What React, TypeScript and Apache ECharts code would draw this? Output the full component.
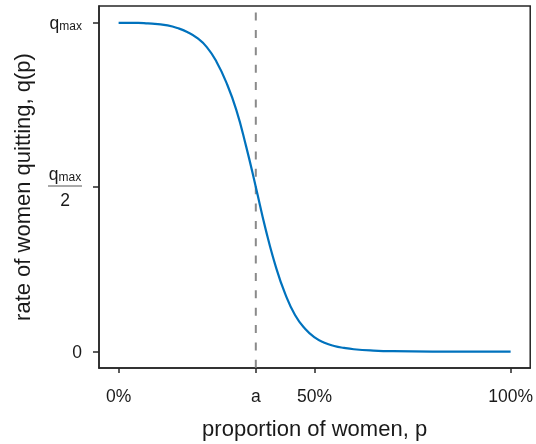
import React, { useEffect, useRef } from 'react';
import * as echarts from 'echarts';

const proportion = [0, 0.025, 0.05, 0.075, 0.1, 0.125, 0.15, 0.175, 0.2, 0.225, 0.25, 0.275, 0.3, 0.325, 0.35, 0.375, 0.4, 0.425, 0.45, 0.475, 0.5, 0.525, 0.55, 0.575, 0.6, 0.65, 0.7, 0.8, 0.9, 1];
const quitRate = [0.999, 0.999, 0.999, 0.997, 0.995, 0.991, 0.983, 0.971, 0.953, 0.925, 0.88, 0.817, 0.735, 0.625, 0.5, 0.372, 0.262, 0.175, 0.111, 0.07, 0.043, 0.027, 0.017, 0.011, 0.007, 0.003, 0.001, 0, 0, 0];

const thresholdA = 0.35;
const dashYs = [1.03, -0.05];

const xLabelValues = [0, thresholdA, 0.5, 1];
const xLabelTexts = ['0%', 'a', '50%', '100%'];
const xTickValues = [0, thresholdA, 0.5, 1];
const yTickValues = [0, 0.5, 1];

const FONT = '"Liberation Sans", Arial, Helvetica, sans-serif';
const AXIS_COLOR = '#262626';

export default function App() {
  const ref = useRef<HTMLDivElement>(null);
  useEffect(() => {
    if (!ref.current) return;
    const chart = echarts.init(ref.current, null, { renderer: 'svg' });
    const curve = proportion.map((p, i) => [p, quitRate[i]]);
    const dash = dashYs.map((y) => [thresholdA, y]);
    chart.setOption({
      animation: false,
      textStyle: { fontFamily: FONT },
      grid: {
        left: 99, right: 3, top: 6, bottom: 76,
        show: true, borderColor: AXIS_COLOR, borderWidth: 1.5,
      },
      xAxis: {
        type: 'value', min: -0.05, max: 1.05,
        position: 'bottom',
        axisLine: { show: true, onZero: false, lineStyle: { color: AXIS_COLOR, width: 1.5 } },
        splitLine: { show: false },
        axisTick: { show: true, inside: false, customValues: xTickValues, length: 5, lineStyle: { color: AXIS_COLOR, width: 1.5 } },
        axisLabel: {
          customValues: xLabelValues,
          margin: 19,
          fontSize: 17.5, color: '#1a1a1a', fontFamily: FONT,
          formatter: (v: number) => {
            const i = xLabelValues.findIndex((x) => Math.abs(x - v) < 1e-9);
            return i >= 0 ? xLabelTexts[i] : '';
          },
        },
        name: 'proportion of women, p',
        nameLocation: 'middle',
        nameGap: 49,
        nameTextStyle: { fontSize: 22, color: '#1a1a1a', fontFamily: FONT },
      },
      yAxis: {
        type: 'value', min: -0.05, max: 1.05,
        position: 'left',
        axisLine: { show: true, onZero: false, lineStyle: { color: AXIS_COLOR, width: 1.5 } },
        splitLine: { show: false },
        axisTick: { show: true, inside: false, customValues: yTickValues, length: 6, lineStyle: { color: AXIS_COLOR, width: 1.5 } },
        axisLabel: {
          customValues: yTickValues,
          margin: 17,
          fontSize: 17.5, color: '#1a1a1a', fontFamily: FONT,
          formatter: (v: number) => {
            if (Math.abs(v - 1) < 1e-9) return '{q|q}{s|max}';
            if (Math.abs(v - 0.5) < 1e-9) return '{qc|q}{sc|max}\n{bar| }\n{two|2}';
            if (Math.abs(v) < 1e-9) return '{z|0}';
            return '';
          },
          rich: {
            q: { fontSize: 17.5, color: '#1a1a1a', fontFamily: FONT, lineHeight: 20, verticalAlign: 'bottom' },
            s: { fontSize: 12, color: '#1a1a1a', fontFamily: FONT, lineHeight: 14, verticalAlign: 'bottom' },
            qc: { fontSize: 17.5, color: '#1a1a1a', fontFamily: FONT, lineHeight: 20, verticalAlign: 'bottom', align: 'center' },
            sc: { fontSize: 12, color: '#1a1a1a', fontFamily: FONT, lineHeight: 14, verticalAlign: 'bottom', align: 'center' },
            bar: { width: 34, height: 1.2, lineHeight: 6, backgroundColor: '#555', align: 'center', fontSize: 2 },
            two: { fontSize: 17.5, color: '#1a1a1a', fontFamily: FONT, lineHeight: 22, align: 'center' },
            z: { fontSize: 17.5, color: '#1a1a1a', fontFamily: FONT },
          },
        },
        name: 'rate of women quitting, q(p)',
        nameLocation: 'middle',
        nameGap: 66,
        nameTextStyle: { fontSize: 22, color: '#1a1a1a', fontFamily: FONT },
      },
      series: [
        {
          type: 'line',
          data: dash,
          showSymbol: false,
          symbol: 'none',
          silent: true,
          lineStyle: { color: '#8a8a8a', width: 2, type: [8, 9.36] },
          z: 1,
        },
        {
          type: 'line',
          data: curve,
          showSymbol: false,
          symbol: 'none',
          smooth: 0.5,
          lineStyle: { color: '#0072BD', width: 2.2 },
          z: 2,
        },
      ],
    });
    return () => chart.dispose();
  }, []);
  return <div ref={ref} style={{ position: 'fixed', left: 0, top: 0, width: 536, height: 444 }} />;
}
